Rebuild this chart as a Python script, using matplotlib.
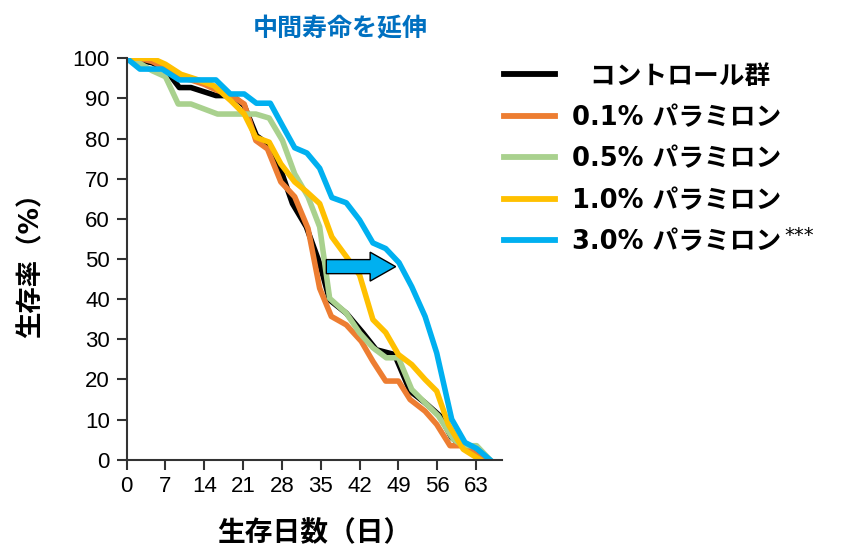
import matplotlib.pyplot as plt
from matplotlib.patches import FancyArrow

plt.rcParams['font.family'] = ['DejaVu Sans', 'Noto Sans CJK JP']

# days / survival (%)
ctrl_x = [0, 4.6, 7.0, 9.5, 11.6, 14.3, 16.1, 19.1, 21.2, 23.4, 25.4, 27.8, 29.9, 32.4, 34.8,
          36.6, 39.6, 42.6, 45.0, 48.3, 51.1, 53.8, 56.5, 58.6, 61.3, 64.9]
ctrl_y = [100, 98.9, 97.3, 92.7, 92.7, 91.5, 90.7, 90.7, 88.2, 80.7, 78.7, 72.1, 63.8, 58.0, 48.9,
          39.8, 36.5, 31.6, 27.4, 26.2, 17.1, 14.2, 10.9, 5.5, 2.6, 0]

p01_x = [0, 2.3, 4.6, 7.0, 9.3, 11.6, 14.0, 16.3, 18.6, 21.2, 23.3, 25.4, 27.8, 30.3, 32.7, 34.8,
         36.9, 39.6, 42.3, 44.4, 46.7, 49.0, 51.1, 53.8, 55.9, 58.3, 60.7, 64.3]
p01_y = [100, 100, 99.2, 97.5, 95.2, 94.6, 93.5, 92.0, 91.0, 88.6, 79.5, 77.4, 69.2, 65.5, 57.6, 42.7,
         35.7, 33.6, 29.5, 24.5, 19.6, 19.6, 15.0, 12.1, 8.8, 3.5, 3.5, 0]

p05_x = [0, 2.2, 4.6, 7.0, 9.3, 11.6, 16.4, 23.3, 25.7, 28.1, 30.3, 32.7, 34.8, 36.6, 39.6,
         42.0, 44.4, 46.8, 49.0, 51.4, 53.8, 56.2, 58.9, 60.7, 63.1, 65.5]
p05_y = [100, 98.9, 96.9, 95.4, 88.6, 88.6, 86.1, 86.1, 85.1, 79.5, 71.2, 65.5, 58.0, 40.2, 36.5,
         31.6, 27.9, 25.4, 25.4, 17.5, 14.2, 10.9, 5.1, 3.5, 3.5, 0]

p10_x = [0, 4.6, 7.0, 9.8, 12.5, 15.8, 18.8, 21.2, 23.3, 25.7, 27.8, 30.3, 32.5, 34.8, 37.0,
         39.6, 42.0, 44.4, 46.7, 49.0, 51.4, 53.8, 55.9, 58.0, 60.7, 63.7]
p10_y = [100, 100, 98.5, 96.0, 94.8, 93.1, 89.4, 86.1, 80.3, 79.1, 73.7, 69.2, 66.7, 63.8, 55.5,
         50.6, 46.0, 34.9, 31.7, 26.2, 23.7, 20.0, 17.1, 8.8, 2.6, 0]

p30_x = [0, 2.4, 6.4, 9.5, 16.1, 18.7, 21.2, 23.4, 25.9, 28.1, 30.3, 32.5, 34.8, 37.0, 39.6,
         42.0, 44.4, 46.7, 49.1, 51.4, 53.8, 55.9, 58.6, 61.0, 63.1, 65.5]
p30_y = [100, 97.3, 97.3, 94.6, 94.6, 91.1, 91.1, 88.8, 88.8, 83.2, 77.7, 76.4, 72.6, 65.3, 64.0,
         59.7, 54.0, 52.6, 49.1, 43.1, 35.7, 26.6, 10.1, 4.3, 2.8, 0]

labels = ['  コントロール群', '0.1% パラミロン', '0.5% パラミロン', '1.0% パラミロン',
          '3.0% パラミロン']
xticks = [0, 7, 14, 21, 28, 35, 42, 49, 56, 63]

fig = plt.figure(figsize=(8.44, 5.6), dpi=100)
ax = fig.add_axes([0.150, 0.179, 0.445, 0.717])

lw = 4.0
ax.plot(ctrl_x, ctrl_y, color='black', lw=lw, label=labels[0])
ax.plot(p01_x, p01_y, color='#ED7D31', lw=lw, label=labels[1])
ax.plot(p05_x, p05_y, color='#A9D18E', lw=lw, label=labels[2])
ax.plot(p10_x, p10_y, color='#FFC000', lw=lw, label=labels[3])
ax.plot(p30_x, p30_y, color='#00B0F0', lw=lw, label=labels[4])

ax.add_patch(FancyArrow(36.0, 48.1, 12.5, 0, width=3.5, head_width=7.2, head_length=4.6,
                        length_includes_head=True, facecolor='#00B0F0', edgecolor='black',
                        lw=1.0, zorder=5))

ax.set_xlim(0, 67.7)
ax.set_ylim(0, 100)
ax.set_xticks(xticks)
ax.set_yticks(range(0, 101, 10))
ax.tick_params(labelsize=16, length=7, width=1.5, pad=5, colors='#333333', labelcolor='black')
for t in ax.get_xticklabels() + ax.get_yticklabels():
    t.set_family('Liberation Sans')
for s in ['top', 'right']:
    ax.spines[s].set_visible(False)
for s in ['left', 'bottom']:
    ax.spines[s].set_linewidth(1.5)
    ax.spines[s].set_color('#333333')

ax.set_xlabel('生存日数（日）', fontsize=20, fontweight='bold', labelpad=16)
ax.set_ylabel('生存率（%）', fontsize=19, fontweight='bold', labelpad=20)
fig.text(0.403, 0.948, '中間寿命を延伸', color='#0070C0', fontsize=18, fontweight='bold',
         ha='center', va='center')

leg = fig.legend(loc='upper left', bbox_to_anchor=(0.585, 0.905), frameon=False,
                 prop={'size': 18.5, 'weight': 'bold'}, handlelength=2.0, handletextpad=0.65,
                 labelspacing=0.6, borderaxespad=0)
for h in leg.get_lines():
    h.set_linewidth(4.2)

# superscript significance marks after the last legend entry
fig.canvas.draw()
bb = leg.get_texts()[-1].get_window_extent()
fig.text((bb.x1 + 3) / fig.bbox.width, ((bb.y0 + bb.y1) / 2 + 7) / fig.bbox.height, '***',
         fontsize=14, ha='left', va='center')

fig.savefig('out.png', dpi=100)
